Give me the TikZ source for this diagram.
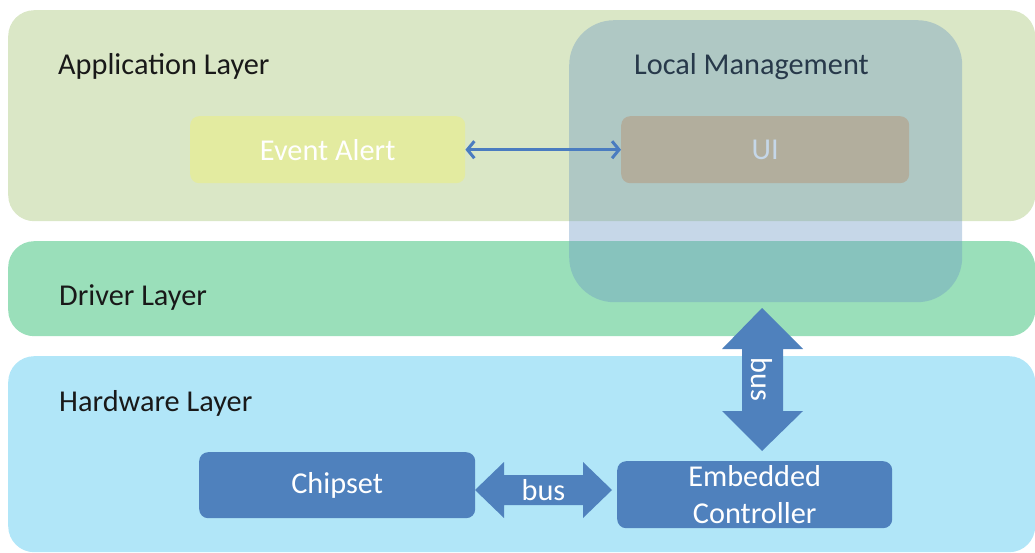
\documentclass[tikz,border=0pt]{standalone}
\usepackage{fontspec}
\setmainfont{Carlito}
\usetikzlibrary{arrows.meta,calc}
\definecolor{appc}{RGB}{218,231,198}
\definecolor{drvc}{RGB}{154,223,186}
\definecolor{hwc}{RGB}{177,230,248}
\definecolor{evc}{RGB}{227,235,160}
\definecolor{uic}{RGB}{224,190,135}
\definecolor{lmc}{RGB}{105,150,195}
\definecolor{hwbox}{RGB}{79,129,189}
\definecolor{arrc}{RGB}{74,124,192}
\begin{document}
\begin{tikzpicture}[x=1pt,y=-1pt,
  fnt/.style={font=\fontsize{30.3}{37}\selectfont},
  layer/.style={rounded corners=26pt, inner sep=0pt, anchor=north west},
  lbl/.style={fnt, anchor=base west, inner sep=0pt, text=black!90},
  box/.style={fnt, rounded corners=9pt, inner sep=0pt, anchor=north west, text=white, align=center},
  bigarrow/.style={fill=hwbox},
  buslbl/.style={fnt, text=white, inner sep=0pt}]
\useasboundingbox (0,0) rectangle (1035,553);
\clip (0,0) rectangle (1035,553);
% layers
\node[layer, fill=appc, minimum width=1027pt, minimum height=211pt] (app) at (8,10) {};
\node[layer, fill=drvc, minimum width=1027pt, minimum height=95pt] (drv) at (8,241) {};
\node[layer, fill=hwc, minimum width=1027pt, minimum height=196pt] (hw) at (8,356) {};
\node[lbl] (applbl) at (58,75) {Application Layer};
\node[lbl] (drvlbl) at (59,305) {Driver Layer};
\node[lbl] (hwlbl) at (59,411) {Hardware Layer};
% application boxes
\node[box, fill=evc, minimum width=275pt, minimum height=67pt] (ea) at (190,116) {Event Alert};
\node[box, fill=uic, minimum width=288pt, minimum height=67pt] (ui) at (621,116) {UI};
\node[lbl, text=black] (lmlbl) at (634,75) {Local Management};
% local management overlay
\node[layer, rounded corners=45pt, fill=lmc, fill opacity=0.38, minimum width=393pt, minimum height=282pt] (lm) at (569,20) {};
\draw[arrc, line width=3pt, {Straight Barb[length=7pt,width=17pt]}-{Straight Barb[length=7pt,width=17pt]}] (ea.east) -- (ui.west);
% hardware boxes
\node[box, fill=hwbox, minimum width=276pt, minimum height=66pt] (chip) at (199,452) {Chipset};
\node[box, fill=hwbox, minimum width=275pt, minimum height=67pt] (ec) at (617,461) {Embedded\\Controller};
% horizontal bus arrow
\coordinate (hbL) at (475,490);
\coordinate (hbR) at (612,490);
\fill[bigarrow] (hbL) -- ++(29,-28) -- ++(0,13) -- ++(79,0) -- ++(0,-13) -- (hbR)
  -- ++(-29,28) -- ++(0,-13) -- ++(-79,0) -- ++(0,13) -- cycle;
\node[buslbl] (hbus) at ($(hbL)!0.5!(hbR)$) {bus};
% vertical bus arrow
\coordinate (vbT) at (762,308);
\coordinate (vbB) at (762,451);
\fill[bigarrow] (vbT) -- ++(41,41) -- ++(-20,0) -- ++(0,62) -- ++(20,0) -- (vbB)
  -- ++(-40,-40) -- ++(20,0) -- ++(0,-62) -- ++(-20,0) -- cycle;
\node[buslbl, rotate=-90] (vbus) at ($(vbT)!0.5!(vbB)$) {bus};
\end{tikzpicture}
\end{document}
